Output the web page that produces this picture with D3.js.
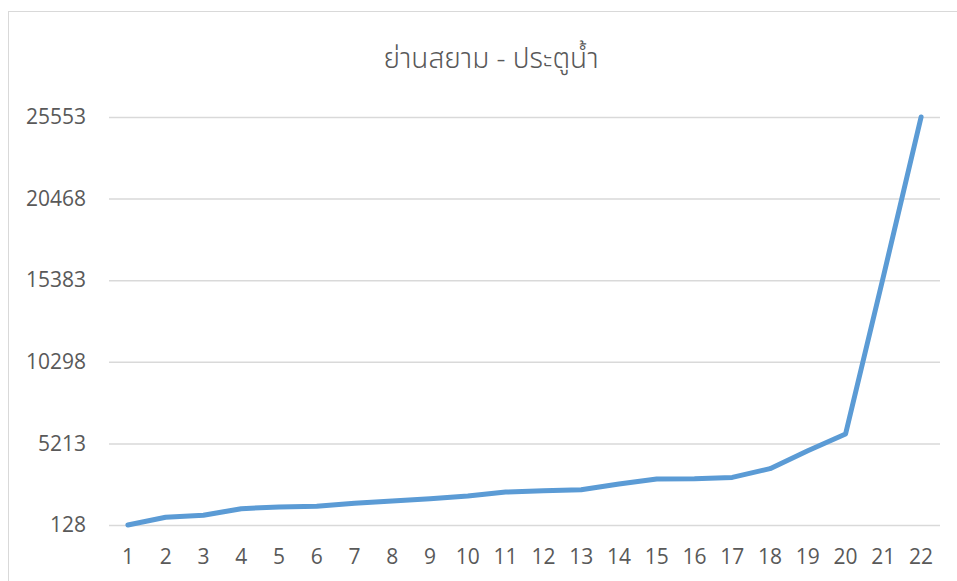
<!DOCTYPE html>
<html>
<head>
<meta charset="utf-8">
<script src="https://cdn.jsdelivr.net/npm/d3@7"></script>
<style>
  html, body { margin: 0; padding: 0; background: #fff; }
  svg { display: block; }
</style>
</head>
<body>
<svg id="chart" width="957" height="581"></svg>
<script>
const title = "ย่านสยาม - ประตูน้ำ";
const categories = ["1","2","3","4","5","6","7","8","9","10","11","12","13","14","15","16","17","18","19","20","21","22"];
const values = [128, 610, 735, 1145, 1250, 1295, 1480, 1625, 1765, 1935, 2180, 2265, 2325, 2680, 2995, 3010, 3095, 3640, 4760, 5800, 15600, 25553];
const yTicks = [128, 5213, 10298, 15383, 20468, 25553];

const svg = d3.select("#chart");
const font = "'Open Sans', 'Noto Sans', sans-serif";
const textColor = "#595959";

// chart border
svg.append("rect")
  .attr("x", 8.5).attr("y", 11.5)
  .attr("width", 990).attr("height", 600)
  .attr("fill", "none").attr("stroke", "#d9d9d9").attr("stroke-width", 1);

const plot = { left: 109, right: 940, top: 117, bottom: 525 };

const x = d3.scaleBand().domain(categories).range([plot.left, plot.right]);
const y = d3.scaleLinear().domain([128, 25553]).range([plot.bottom, plot.top]);

// gridlines
const yAxis = d3.axisLeft(y).tickValues(yTicks).tickSize(-(plot.right - plot.left)).tickPadding(23).tickFormat(d => String(d));
const gy = svg.append("g").attr("transform", `translate(${plot.left},0)`).call(yAxis);
gy.select(".domain").remove();
gy.selectAll(".tick line").attr("stroke", "#d9d9d9").attr("stroke-width", 1.5);
gy.selectAll(".tick text")
  .attr("fill", textColor).style("font-family", font).style("font-size", "21px");

// x axis labels
const xAxis = d3.axisBottom(x).tickSize(0).tickPadding(24);
const gx = svg.append("g").attr("transform", `translate(0,${plot.bottom})`).call(xAxis);
gx.select(".domain").remove();
gx.selectAll(".tick text")
  .attr("fill", textColor).style("font-family", font).style("font-size", "21px");

// line
const line = d3.line()
  .x((d, i) => x(categories[i]) + x.bandwidth() / 2)
  .y(d => y(d));
svg.append("path")
  .datum(values)
  .attr("d", line)
  .attr("fill", "none")
  .attr("stroke", "#5B9BD5")
  .attr("stroke-width", 5)
  .attr("stroke-linejoin", "round")
  .attr("stroke-linecap", "round");

// title
svg.append("text")
  .attr("x", 491).attr("y", 68)
  .attr("text-anchor", "middle")
  .attr("fill", textColor)
  .style("font-family", "'Noto Sans Thai', 'Noto Sans', 'DejaVu Sans', sans-serif")
  .style("font-weight", "300")
  .style("font-size", "28px")
  .text(title);
</script>
</body>
</html>
